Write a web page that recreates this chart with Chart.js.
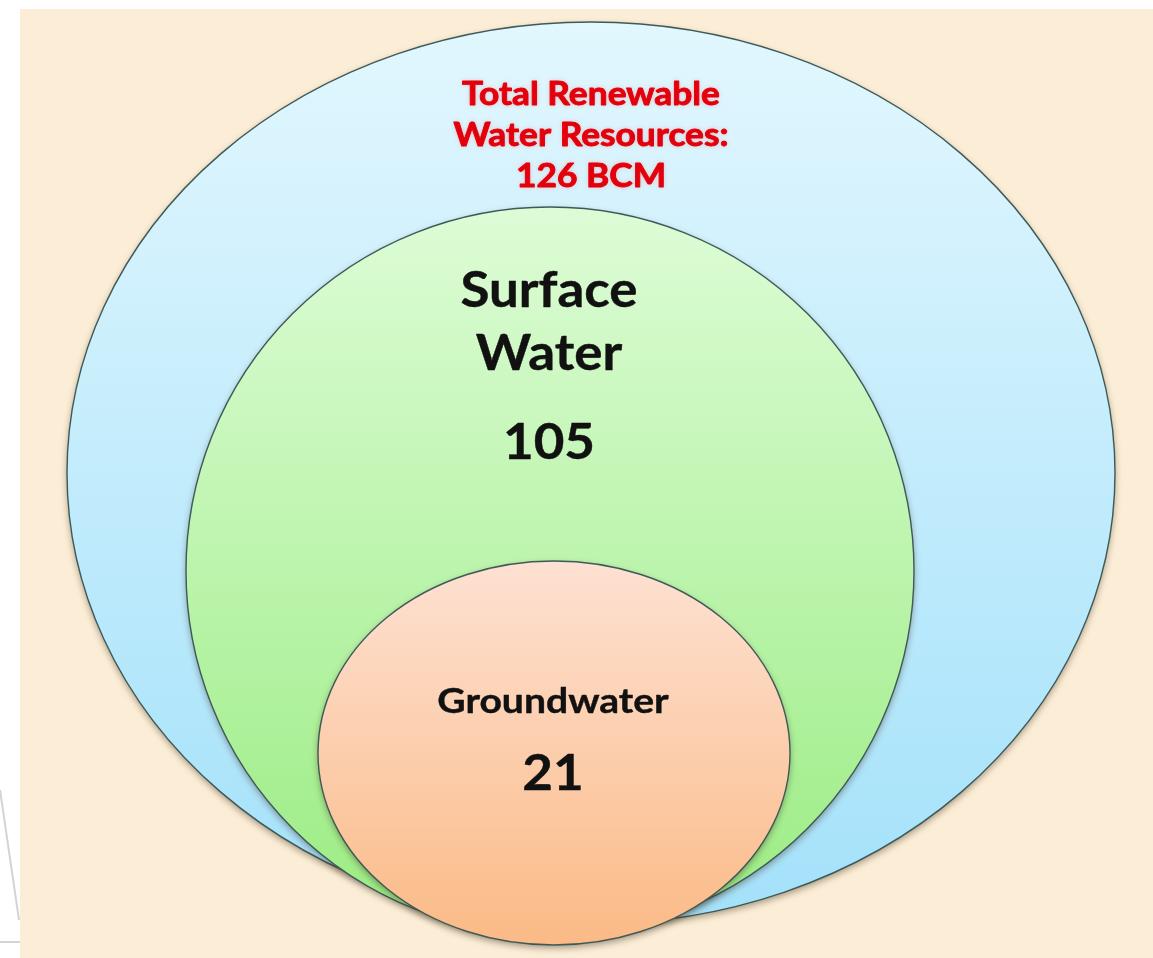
<!DOCTYPE html>
<html><head><meta charset="utf-8">
<script src="https://cdn.jsdelivr.net/npm/chart.js@4/dist/chart.umd.min.js"></script>
<style>html,body{margin:0;padding:0;background:#fff;overflow:hidden}canvas{display:block}</style>
</head><body>
<canvas id="c" width="1153" height="958"></canvas>
<script>
// ---- data ----
const categories = ['Total Renewable Water Resources', 'Surface Water', 'Groundwater'];
const values = [126, 105, 21];
const unit = 'BCM';

// ---- layout (plot units, x 0..1153, y 0..958 top-down) ----
const shapes = [
  {cx: 591, cy: 473, rx: 524, ry: 451, top: '#E2F7FE', bottom: '#A3E1FA'},
  {cx: 550, cy: 571, rx: 364, ry: 364, top: '#DDFCD6', bottom: '#9AEC82'},
  {cx: 554, cy: 753, rx: 236, ry: 192, top: '#FDE1D2', bottom: '#FBBA86'}
];
const labelLayout = [
  {x: 591, lines: [105, 146, 187], fonts: ['bold 33px Lato', 'bold 33px Lato', 'bold 33px Lato'], sx: 1.07, color: '#E2000C', glow: true, stroke: 0.9},
  {x: 549, lines: [307, 370, 459], fonts: ['bold 49px Lato', 'bold 49px Lato', 'bold 49px Lato'], sx: 1.08, color: '#111111', stroke: 0.4},
  {x: 553, lines: [713, 790], fonts: ['bold 34px Lato', 'bold 49px Lato'], sx: [1.15, 1.08], color: '#111111', stroke: 0.4}
];

function labelText(i) {
  if (i === 0) return ['Total Renewable', 'Water Resources:', values[0] + ' ' + unit];
  if (i === 1) return ['Surface', 'Water', String(values[1])];
  return [categories[2], String(values[2])];
}

const ellipsePlugin = {
  id: 'ellipses',
  beforeDraw(chart) {
    const ctx = chart.ctx;
    const xs = chart.scales.x, ys = chart.scales.y;
    ctx.save();
    ctx.fillStyle = '#ffffff';
    ctx.fillRect(0, 0, chart.width, chart.height);
    const bx = xs.getPixelForValue(20), by = ys.getPixelForValue(9);
    ctx.fillStyle = '#FBEDD6';
    ctx.fillRect(bx, by, chart.width - bx, chart.height - by);
    ctx.strokeStyle = '#d4d4d4';
    ctx.lineWidth = 2;
    ctx.beginPath();
    ctx.moveTo(xs.getPixelForValue(0), ys.getPixelForValue(790));
    ctx.lineTo(xs.getPixelForValue(19), ys.getPixelForValue(920));
    ctx.moveTo(xs.getPixelForValue(0), ys.getPixelForValue(942));
    ctx.lineTo(xs.getPixelForValue(20), ys.getPixelForValue(942));
    ctx.stroke();
    ctx.restore();
  },
  beforeDatasetsDraw(chart) {
    const ctx = chart.ctx;
    const xs = chart.scales.x, ys = chart.scales.y;
    shapes.forEach((s) => {
      const cx = xs.getPixelForValue(s.cx), cy = ys.getPixelForValue(s.cy);
      const rx = Math.abs(xs.getPixelForValue(s.cx + s.rx) - cx);
      const ry = Math.abs(ys.getPixelForValue(s.cy + s.ry) - cy);
      const g = ctx.createLinearGradient(0, cy - ry, 0, cy + ry);
      g.addColorStop(0, s.top);
      g.addColorStop(1, s.bottom);
      ctx.save();
      ctx.beginPath();
      ctx.ellipse(cx, cy, rx, ry, 0, 0, Math.PI * 2);
      ctx.shadowColor = 'rgba(60,40,20,0.45)';
      ctx.shadowBlur = 7;
      ctx.shadowOffsetY = 3;
      ctx.fillStyle = g;
      ctx.fill();
      ctx.shadowColor = 'transparent';
      ctx.lineWidth = 1.4;
      ctx.strokeStyle = '#3e5a58';
      ctx.stroke();
      ctx.restore();
    });
  },
  afterDatasetsDraw(chart) {
    const ctx = chart.ctx;
    const xs = chart.scales.x, ys = chart.scales.y;
    labelLayout.forEach((L, i) => {
      const lines = labelText(i);
      lines.forEach((t, j) => {
        ctx.save();
        ctx.font = L.fonts[j];
        ctx.fillStyle = L.color;
        ctx.strokeStyle = L.color;
        ctx.lineWidth = L.stroke;
        ctx.lineJoin = 'round';
        ctx.textAlign = 'center';
        ctx.textBaseline = 'alphabetic';
        if (L.glow) { ctx.shadowColor = 'rgba(255,110,110,0.5)'; ctx.shadowBlur = 4; }
        const sx = Array.isArray(L.sx) ? L.sx[j] : L.sx;
        ctx.translate(xs.getPixelForValue(L.x), ys.getPixelForValue(L.lines[j]));
        ctx.scale(sx, 1);
        ctx.fillText(t, 0, 0);
        ctx.shadowColor = 'transparent';
        ctx.strokeText(t, 0, 0);
        ctx.restore();
      });
    });
  }
};

new Chart(document.getElementById('c'), {
  type: 'scatter',
  data: {
    labels: categories,
    datasets: [{
      label: 'Water resources (BCM)',
      data: shapes.map((s, i) => ({x: s.cx, y: s.cy, v: values[i]})),
      pointRadius: 0,
      pointHoverRadius: 0
    }]
  },
  options: {
    responsive: false,
    animation: false,
    layout: {padding: 0},
    plugins: {legend: {display: false}, tooltip: {enabled: false}},
    scales: {
      x: {type: 'linear', min: 0, max: 1153, display: false},
      y: {type: 'linear', min: 0, max: 958, reverse: true, display: false}
    }
  },
  plugins: [ellipsePlugin]
});
</script>
</body></html>
